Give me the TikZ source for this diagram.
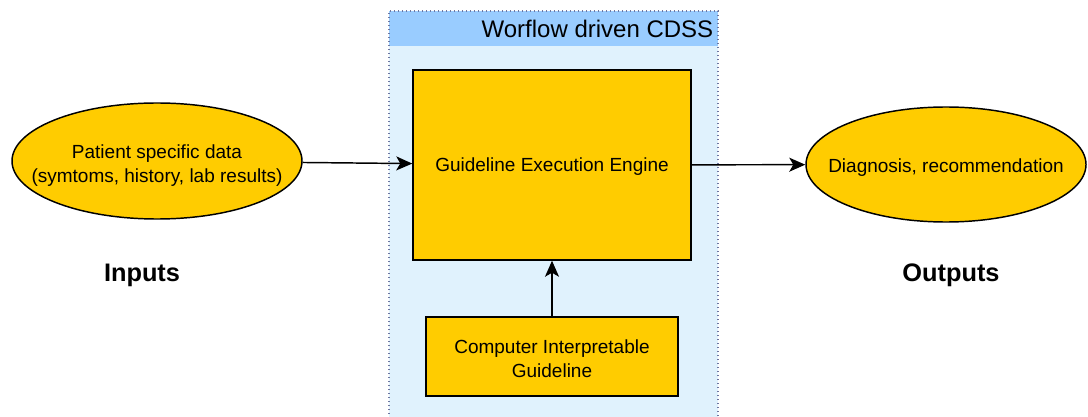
\documentclass[tikz,border=0pt]{standalone}
\usepackage{fontspec}
\setmainfont{Liberation Sans}
\usetikzlibrary{shapes.geometric,arrows.meta}

\definecolor{cdssyellow}{RGB}{255,204,0}
\definecolor{cdsshead}{RGB}{153,204,255}
\definecolor{cdssbody}{RGB}{224,242,253}
\definecolor{cdssdots}{RGB}{110,118,160}

\tikzset{every picture/.style={line width=1.1pt}}
\tikzset{
  ybox/.style={draw=black, fill=cdssyellow, inner sep=0pt, align=center, font=\fontsize{14.25}{18}\selectfont},
  yell/.style={ellipse, draw=black, fill=cdssyellow, inner sep=0pt},
  txt/.style={inner sep=0pt, align=center, font=\fontsize{14.25}{18}\selectfont},
  bigtxt/.style={inner sep=0pt, font=\fontsize{19}{23}\selectfont\bfseries},
  flow/.style={-{Stealth[length=12pt,width=10.5pt,inset=3pt]}, line width=1.1pt},
}

\begin{document}
\begin{tikzpicture}[x=0.75pt,y=0.75pt,yscale=-1,xscale=1]
\useasboundingbox (0,0) rectangle (1088,417);

%Container body and header
\fill[cdssbody] (389,46) rectangle (718,422);
\fill[cdsshead] (389,11) rectangle (718,46);
\draw[cdssdots, dotted, line width=1pt] (389,422) -- (389,11) -- (718,11) -- (718,422);
% Text Node
\node[anchor=base east, inner sep=0pt, font=\fontsize{18}{22}\selectfont] (cdss) at (714,37.5) {Worflow driven CDSS};

%Shape: Rectangle
\node[ybox, minimum width=208.5pt, minimum height=142.5pt] (engine) at (552,165) {};
\node[txt] (enginetxt) at (552,167) {Guideline Execution Engine};
%Shape: Rectangle
\node[ybox, minimum width=189pt, minimum height=59.25pt] (cig) at (552,356.5) {};
\node[txt] (cigtxt) at (552,358.5) {Computer Interpretable\\Guideline};

%Shape: Ellipse
\node[yell, minimum width=217.5pt, minimum height=87pt] (patient) at (157,161) {};
\node[txt] (patienttxt) at (157,166) {Patient specific data\\(symtoms, history, lab results)};
%Shape: Ellipse
\node[yell, minimum width=210pt, minimum height=86.25pt] (diag) at (946,164.5) {};
\node[txt] (diagtxt) at (946,168) {Diagnosis, recommendation};

% Text Node
\node[bigtxt, anchor=base] (inputs) at (142,281) {Inputs};
% Text Node
\node[bigtxt, anchor=base] (outputs) at (951,281) {Outputs};

%Straight Lines
\draw[flow] (patient) -- (engine);
\draw[flow] (engine) -- (diag);
\draw[flow] (cig) -- (engine);

\end{tikzpicture}
\end{document}
